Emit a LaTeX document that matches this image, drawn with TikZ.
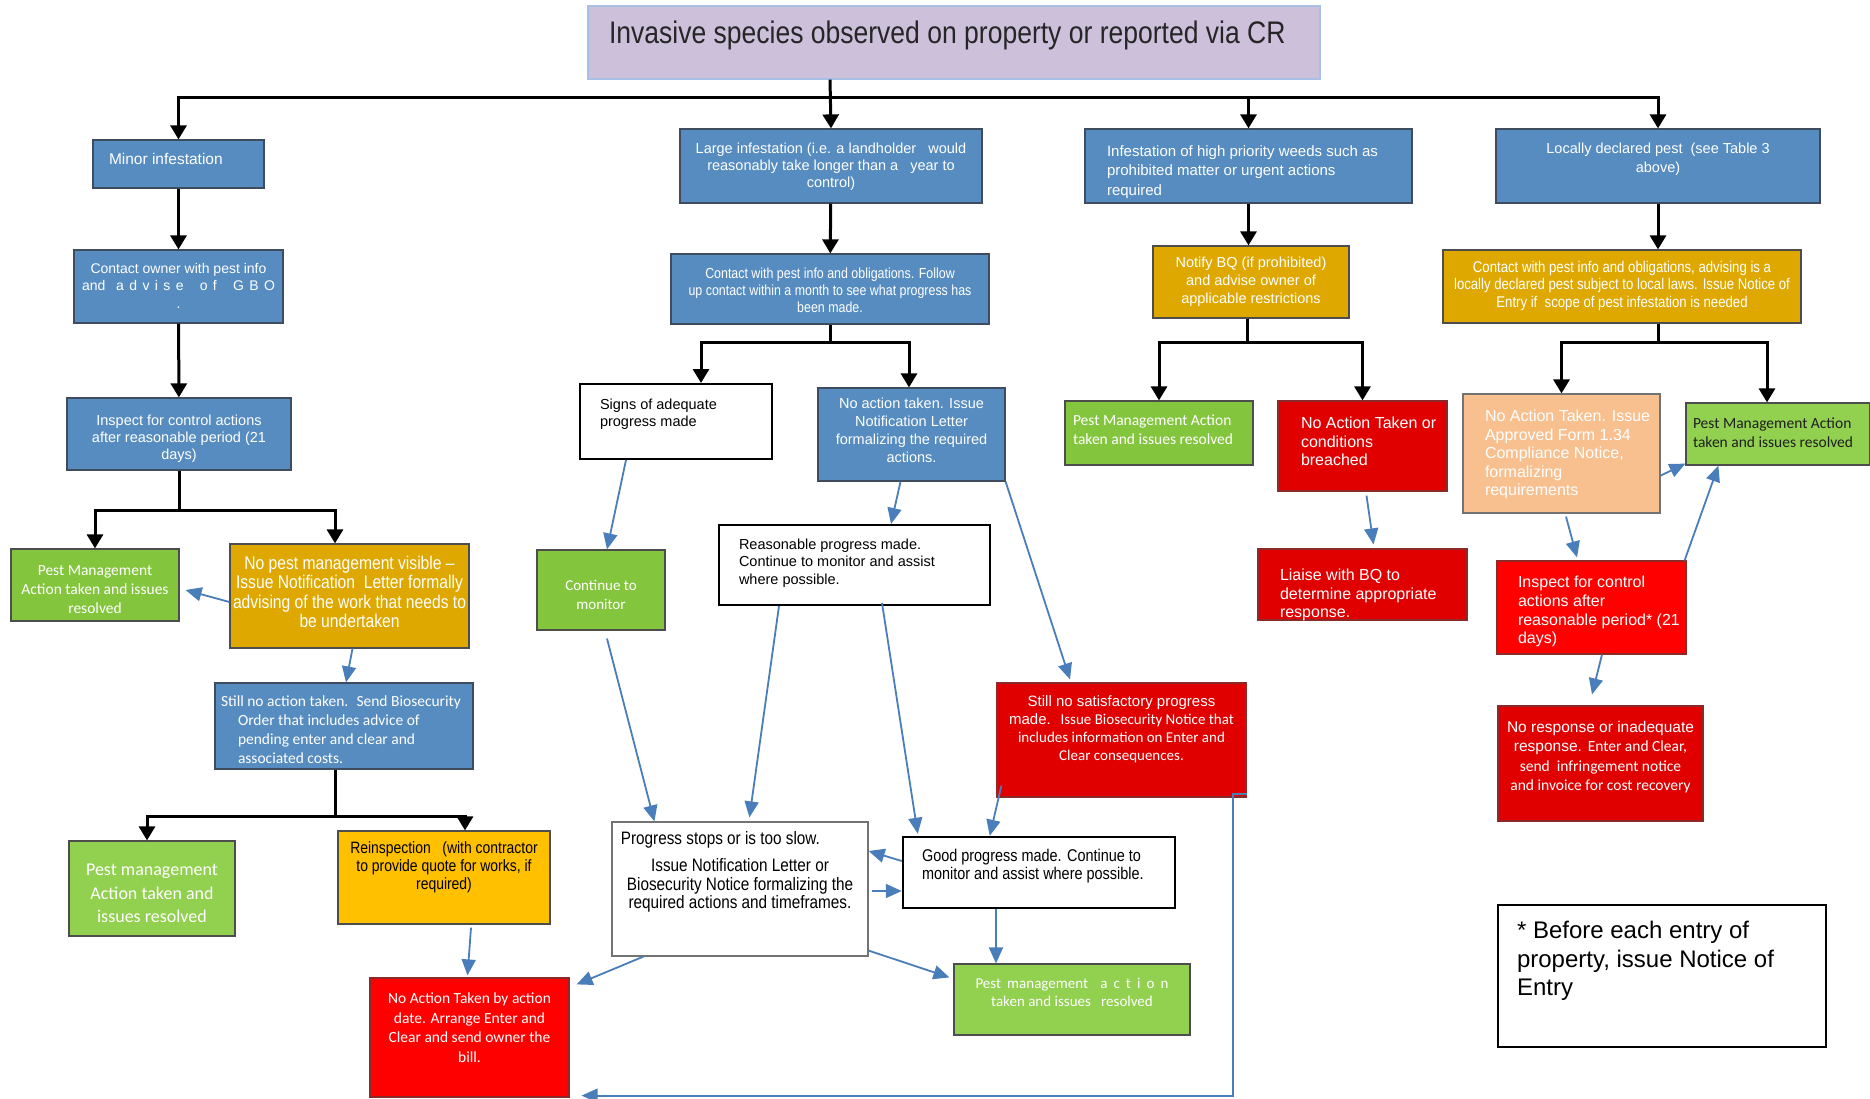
\documentclass[tikz,border=0pt]{standalone}
\usepackage{fontspec}
\setmainfont{Liberation Sans}
\newfontfamily\calfont{Carlito}
\newfontfamily\narrowfont[FakeStretch=0.85]{Liberation Sans}
\usetikzlibrary{arrows.meta}

\definecolor{TitleFill}{HTML}{CCC0DA}
\definecolor{TitleEdge}{HTML}{A9C0E6}
\definecolor{BlueFill}{HTML}{568CC0}
\definecolor{BlueEdge}{HTML}{3E4C5E}
\definecolor{GoldFill}{HTML}{DFA800}
\definecolor{YellowFill}{HTML}{FFC000}
\definecolor{GreenFill}{HTML}{84C53E}
\definecolor{LightGreen}{HTML}{92D050}
\definecolor{RedFill}{HTML}{FF0000}
\definecolor{DarkRed}{HTML}{E00000}
\definecolor{RedEdge}{HTML}{8C2A2A}
\definecolor{PeachFill}{HTML}{F9C08F}
\definecolor{GreyEdge}{HTML}{4D4D4D}
\definecolor{FlowBlue}{HTML}{4A7EBB}

% text block inside a box: width, height, first baseline, size, leading, lines
\newcommand{\CBox}[6]{\parbox[c][#2pt][t]{#1pt}{\centering\fontsize{#4}{#5}\selectfont
  \vspace*{\dimexpr#3pt-.7\baselineskip\relax}\begin{tabular}[t]{@{}c@{}}#6\end{tabular}}}
% same, left aligned with a left pad
\newcommand{\LBox}[7]{\parbox[c][#2pt][t]{#1pt}{\raggedright\fontsize{#4}{#5}\selectfont
  \vspace*{\dimexpr#3pt-.7\baselineskip\relax}\hspace*{#6pt}\begin{tabular}[t]{@{}l@{}}#7\end{tabular}}}

\begin{document}
\begin{tikzpicture}
[
x=1pt, y=-1pt,
Box/.style={rectangle, inner sep=0pt, line width=1.2pt},
TitleBox/.style={Box, draw=TitleEdge, fill=TitleFill, text=black!85, font=\narrowfont},
BlueBox/.style={Box, draw=BlueEdge, fill=BlueFill, text=white},
GoldBox/.style={Box, draw=GreyEdge, fill=GoldFill, text=white},
YellowBox/.style={Box, draw=GreyEdge, fill=YellowFill, text=black, font=\narrowfont},
GreenBox/.style={Box, draw=GreyEdge, fill=GreenFill, text=white, font=\calfont},
LightGreenBox/.style={Box, draw=GreyEdge, fill=LightGreen, text=white, font=\calfont},
RedBox/.style={Box, draw=RedEdge, fill=RedFill, text=white},
DarkRedBox/.style={Box, draw=RedEdge, fill=DarkRed, text=white},
PeachBox/.style={Box, draw=black!55, fill=PeachFill, text=white},
WhiteBox/.style={Box, draw=black, fill=white, text=black, line width=2pt},
Tree/.style={draw=black, line width=3pt, -{Triangle[length=14pt,width=16pt]}},
Flow/.style={draw=FlowBlue, line width=1.8pt, -{Triangle[length=16pt,width=14pt]}},
]

\fill[white] (0,0) rectangle (1870,1099);
\useasboundingbox (0,0) rectangle (1870,1099);

% top level
\node[TitleBox] (title) at (954,42.5) {\LBox{732}{73}{38}{31.2}{36}{21}{Invasive species observed on property or reported via CR}};

\node[BlueBox] (minor) at (178.5,164) {\LBox{171}{48}{24.6}{15.5}{18}{16}{Minor infestation}};
\node[BlueBox] (large) at (831,166) {\CBox{302}{74}{24.2}{14.5}{17}{Large infestation (i.e. a landholder~~ would\\ reasonably take longer than a~~ year to\\ control)}};
\node[BlueBox] (high) at (1248.5,166) {\LBox{327}{74}{27.4}{15}{19.5}{22}{Infestation of high priority weeds such as\\ prohibited matter or urgent actions\\ required}};
\node[BlueBox] (local) at (1658,166) {\CBox{324}{74}{24.2}{14.5}{19}{Locally declared pest~ (see Table 3\\ above)}};

\node[BlueBox] (cowner) at (178.5,286.5) {\CBox{209}{73}{23}{14}{17.5}{Contact owner with pest info\\ \makebox[193pt][s]{and \ a d v i s e \ \ o f \ \ G B O}\\ .}};
\node[BlueBox, font=\narrowfont] (contact) at (830,289) {\CBox{318}{70}{24}{14.6}{17.5}{Contact with pest info and obligations. Follow\\ up contact within a month to see what progress has\\ been made.}};
\node[GoldBox] (notify) at (1251,282) {\CBox{196}{72}{21.2}{14.5}{18}{Notify BQ (if prohibited)\\ and advise owner of\\ applicable restrictions}};
\node[GoldBox, font=\narrowfont] (contactl) at (1622,286.5) {\CBox{358}{73}{22}{15.5}{17.5}{Contact with pest info and obligations, advising is a\\ locally declared pest subject to local laws. Issue Notice of\\ Entry if~ scope of pest infestation is needed}};

% minor infestation
\node[BlueBox] (inspect) at (179,434) {\CBox{224}{72}{27.2}{14.5}{17}{Inspect for control actions\\ after reasonable period (21\\ days)}};
\node[GreenBox] (pm1) at (95,585) {\CBox{168}{72}{26.6}{15.5}{19}{Pest Management\\ Action taken and issues\\ resolved}};
\node[GoldBox, font=\narrowfont] (nopest) at (349.5,596) {\CBox{239}{104}{25.3}{18.4}{19.5}{No pest management visible –\\ Issue Notification~ Letter formally\\ advising of the work that needs to\\ be undertaken}};
\node[BlueBox, font=\calfont] (stillno) at (344,726) {\LBox{258}{86}{23.6}{15.5}{19}{6}{Still no action taken.~ Send Biosecurity\\ \hspace*{17pt}Order that includes advice of\\ \hspace*{17pt}pending enter and clear and\\ \hspace*{17pt}associated costs.}};
\node[LightGreenBox] (pm2) at (152,888.5) {\CBox{166}{95}{34.5}{18}{23.5}{Pest management\\ Action taken and\\ issues resolved}};
\node[YellowBox] (reinsp) at (444,877.5) {\CBox{212}{93}{22.8}{16.4}{18}{Reinspection~~ (with contractor\\ to provide quote for works, if\\ required)}};
\node[RedBox, font=\calfont] (noact) at (469.5,1037.5) {\CBox{199}{119}{25.6}{15.5}{19.5}{No Action Taken by action\\ date. Arrange Enter and\\ Clear and send owner the\\ bill.}};

% large infestation
\node[WhiteBox] (signs) at (676,421.5) {\LBox{192}{75}{25.2}{14.5}{17}{20}{Signs of adequate\\ progress made}};
\node[BlueBox] (noissue) at (911.5,434.5) {\CBox{187}{93}{20.2}{14.5}{18}{No action taken. Issue\\ Notification Letter\\ formalizing the required\\ actions.}};
\node[GreenBox] (cont) at (601,590) {\CBox{128}{80}{40.4}{15}{19}{Continue to\\ monitor}};
\node[WhiteBox] (reason) at (854.5,565) {\LBox{271}{80}{24.2}{14.5}{17.5}{20}{Reasonable progress made.\\ Continue to monitor and assist\\ where possible.}};
\node[DarkRedBox] (stillsat) at (1121.5,740) {\CBox{249}{114}{23.4}{15}{18}{Still no satisfactory progress\\ made.~ {\calfont Issue Biosecurity Notice that}\\ {\calfont includes information on Enter and}\\ {\calfont Clear consequences.}}};
\node[WhiteBox, draw=black!55, line width=1.2pt, font=\narrowfont] (progress) at (740,889) {\CBox{256}{134}{22.5}{18}{18.5}{\multicolumn{1}{@{}l@{}}{\hspace*{-6pt}Progress stops or is too slow.}\\[8.5pt] Issue Notification Letter or\\ Biosecurity Notice formalizing the\\ required actions and timeframes.}};
\node[WhiteBox, line width=2.5pt, font=\narrowfont] (good) at (1039,872.5) {\LBox{272}{71}{24.9}{17}{17.5}{19}{Good progress made. Continue to\\ monitor and assist where possible.}};
\node[LightGreenBox] (pestbot) at (1072,999.5) {\CBox{236}{71}{24.4}{15}{18.5}{\makebox[193pt][s]{Pest management \ a c t i o n}\\ taken and issues~~ resolved}};

% high priority weeds
\node[GreenBox] (pmhigh) at (1159,433) {\LBox{188}{64}{24.6}{15.5}{19}{8}{Pest Management Action\\ taken and issues resolved}};
\node[DarkRedBox] (breach) at (1362.5,446) {\LBox{169}{90}{27.8}{16}{18.5}{23}{No Action Taken or\\ conditions\\ breached}};
\node[DarkRedBox] (liaise) at (1362.5,584.5) {\LBox{209}{71}{31.8}{16}{18.5}{22}{Liaise with BQ to\\ determine appropriate\\ response.}};

% locally declared pest
\node[PeachBox] (approved) at (1561.5,453.5) {\LBox{197}{119}{27.8}{16}{18.5}{22}{No Action Taken. Issue\\ Approved Form 1.34\\ Compliance Notice,\\ formalizing\\ requirements}};
\node[LightGreenBox, text=black!88] (pestloc) at (1778,434) {\LBox{184}{62}{25.6}{15.5}{19}{7}{Pest Management Action\\ taken and issues resolved}};
\node[RedBox] (inspectl) at (1591.5,607.5) {\LBox{189}{93}{26.8}{16}{18.7}{21}{Inspect for control\\ actions after\\ reasonable period* (21\\ days)}};
\node[DarkRedBox] (noresp) at (1600.5,763.5) {\CBox{205}{115}{26.6}{15.5}{19.3}{No response or inadequate\\ response. {\calfont Enter and Clear,}\\ {\calfont send~ infringement notice}\\ {\calfont and invoice for cost recovery}}};

\node[WhiteBox, line width=1.5pt] (note) at (1662,976) {\LBox{328}{142}{33.6}{24}{28.5}{19}{* Before each entry of\\ property, issue Notice of\\ Entry}};

% black tree
\coordinate (split) at (830,98);
\draw[Tree] (title.south -| split) -- (large.north);
\draw[Tree] (split) -| (minor.north);
\draw[Tree] (split) -| (high.north);
\draw[Tree] (split) -| (local.north);

\draw[Tree] (minor) -- (cowner);
\draw[Tree] (cowner) -- (inspect);
\draw[Tree] (large) -- (contact);
\draw[Tree] (high.south) -- (high.south |- notify.north);
\draw[Tree] (local.south) -- (local.south |- contactl.north);

\draw[Tree] (inspect.south) -- ++(0,40) -| (pm1.north);
\draw[Tree] (inspect.south) -- ++(0,40) -| ([xshift=-14.5pt]nopest.north);
\draw[Tree] ([xshift=-9pt]stillno.south) -- ++(0,47) -| ([xshift=-5pt]pm2.north);
\draw[Tree] ([xshift=-9pt]stillno.south) -- ++(0,47) -| ([xshift=21pt]reinsp.north);
\draw[Tree] (contact.south) -- ++(0,18) -| ([xshift=25pt]signs.north);
\draw[Tree] (contact.south) -- ++(0,18) -| ([xshift=-2.5pt]noissue.north);
\draw[Tree] ([xshift=-4pt]notify.south) -- ++(0,24) -| (pmhigh.north);
\draw[Tree] ([xshift=-4pt]notify.south) -- ++(0,24) -| (breach.north);
\draw[Tree] (contactl.south -| local.south) -- ++(0,19) -| (approved.north);
\draw[Tree] (contactl.south -| local.south) -- ++(0,19) -| ([xshift=-11pt]pestloc.north);

% blue flow arrows
\draw[Flow] ([yshift=-6pt]nopest.west) -- ([xshift=6pt,yshift=-5pt]pm1.east);
\draw[Flow] ([xshift=3pt]nopest.south) -- ([xshift=2pt]stillno.north);
\draw[Flow] ([xshift=27pt,yshift=-3pt]reinsp.south) -- ([xshift=-2pt,yshift=2pt]noact.north);

\draw[Flow] ([xshift=-50pt]signs.south) -- ([xshift=6pt]cont.north);
\draw[Flow] ([xshift=-11pt]noissue.south) -- ([xshift=36.5pt]reason.north);
\draw[Flow] (noissue.south east) -- ([xshift=-51.5pt,yshift=3pt]stillsat.north);
\draw[Flow] ([xshift=6pt,yshift=-8pt]cont.south) -- ([xshift=43pt]progress.north west);
\draw[Flow] ([xshift=61pt]reason.south west) -- ([xshift=138pt,yshift=4pt]progress.north west);
\draw[Flow] ([xshift=164pt,yshift=3pt]reason.south west) -- ([xshift=16pt,yshift=2pt]good.north west);
\draw[Flow] ([xshift=5pt,yshift=12pt]stillsat.south west) -- ([xshift=88pt]good.north west);
\draw[Flow] ([yshift=11.5pt]good.west) -- ([yshift=38pt]progress.east);
\draw[Flow] ([xshift=3pt,yshift=-2pt]progress.east) -- ([yshift=-18.5pt]good.west);
\draw[Flow] ([xshift=-43pt]good.south) -- ([xshift=-43pt]good.south |- pestbot.north);
\draw[Flow] ([yshift=6pt]progress.south east) -- ([xshift=-4pt,yshift=-14pt]pestbot.north west);
\draw[Flow] ([xshift=32pt]progress.south west) -- ([xshift=7pt,yshift=-7pt]noact.north east);
\draw[Flow] ([yshift=4pt]stillsat.south east) -- ++(-14,0) |- ([xshift=12pt,yshift=2pt]noact.south east);

\draw[Flow] ([xshift=4pt,yshift=-4pt]breach.south) -- ([xshift=11pt,yshift=4pt]liaise.north);

\draw[Flow] ([yshift=38pt]approved.south east) -- ([yshift=2pt]pestloc.south west);
\draw[Flow] ([xshift=4.5pt,yshift=-3pt]approved.south) -- ([xshift=-14.5pt,yshift=3pt]inspectl.north);
\draw[Flow] ([xshift=-2pt]inspectl.north east) -- ([xshift=33pt]pestloc.south west);
\draw[Flow] ([xshift=10.5pt]inspectl.south) -- ([xshift=-8.5pt,yshift=11pt]noresp.north);

\end{tikzpicture}
\end{document}
